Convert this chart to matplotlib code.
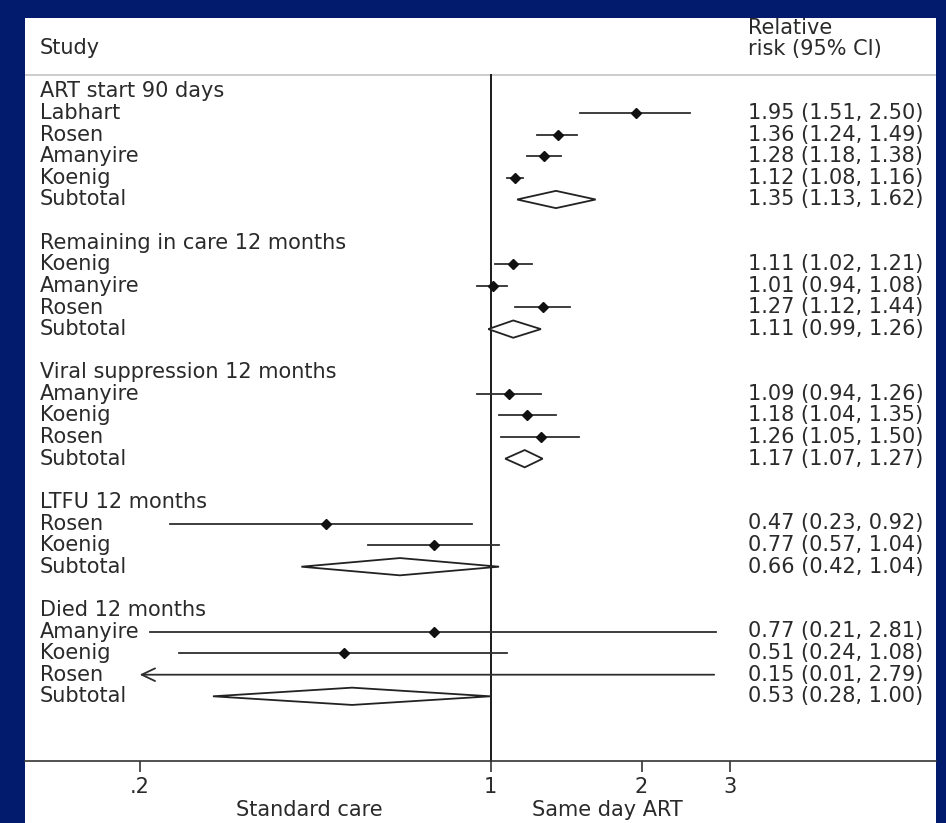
import matplotlib
matplotlib.use('Agg')
import matplotlib.pyplot as plt
from matplotlib import transforms
from matplotlib.patches import Polygon, Rectangle
from matplotlib.ticker import FixedLocator, NullLocator

# groups (outcomes) and studies
group_names = ['ART start 90 days', 'Remaining in care 12 months',
               'Viral suppression 12 months', 'LTFU 12 months', 'Died 12 months']

study_names = ['Labhart', 'Rosen', 'Amanyire', 'Koenig',
               'Koenig', 'Amanyire', 'Rosen',
               'Amanyire', 'Koenig', 'Rosen',
               'Rosen', 'Koenig',
               'Amanyire', 'Koenig', 'Rosen']
study_group = [0, 0, 0, 0, 1, 1, 1, 2, 2, 2, 3, 3, 4, 4, 4]
rr = [1.95, 1.36, 1.28, 1.12, 1.11, 1.01, 1.27, 1.09, 1.18, 1.26, 0.47, 0.77, 0.77, 0.51, 0.15]
lo = [1.51, 1.24, 1.18, 1.08, 1.02, 0.94, 1.12, 0.94, 1.04, 1.05, 0.23, 0.57, 0.21, 0.24, 0.01]
hi = [2.50, 1.49, 1.38, 1.16, 1.21, 1.08, 1.44, 1.26, 1.35, 1.50, 0.92, 1.04, 2.81, 1.08, 2.79]

# subtotal (pooled) per group
sub_rr = [1.35, 1.11, 1.17, 0.66, 0.53]
sub_lo = [1.13, 0.99, 1.07, 0.42, 0.28]
sub_hi = [1.62, 1.26, 1.27, 1.04, 1.00]

ticks = [0.2, 1, 2, 3]
tick_labels = ['.2', '1', '2', '3']
x_show_min = 0.2   # lower end of the plotted range, smaller CIs get an arrow

W, H = 946, 823
BG = '#021b6d'
INK = '#2a2a2a'
FS = 15
plt.rcParams['font.family'] = ['DejaVu Sans']

fig = plt.figure(figsize=(W / 100, H / 100), dpi=100, facecolor=BG)
fig.add_artist(Rectangle((25 / W, 0), (936 - 25) / W, 1 - 18 / H,
                         transform=fig.transFigure, facecolor='white',
                         edgecolor='none', zorder=-10))

# axes covers the white panel, bottom spine is the x axis
ax_bottom = 760.7
ax = fig.add_axes([25 / W, (H - ax_bottom) / H, (936 - 25) / W, (ax_bottom - 18) / H])
ax.set_facecolor('none')
ax.set_xscale('log')
x_one, decade = 490.5, 502.0
ax.set_xlim(10 ** ((25 - x_one) / decade), 10 ** ((936 - x_one) / decade))
row0, row_h = 91.5, 21.6
y_bot = (ax_bottom - row0) / row_h
ax.set_ylim(y_bot, (18 - row0) / row_h)

for s in ['top', 'left', 'right']:
    ax.spines[s].set_visible(False)
ax.spines['bottom'].set_color('#333333')
ax.spines['bottom'].set_linewidth(1.2)
ax.set_yticks([])
ax.xaxis.set_major_locator(FixedLocator(ticks))
ax.xaxis.set_minor_locator(NullLocator())
ax.set_xticklabels(tick_labels)
ax.tick_params(axis='x', direction='out', length=8, width=1.2, color='#333333',
               labelsize=FS, labelcolor=INK, pad=4)

# header
fig.text(40 / W, 1 - 48 / H, 'Study', fontsize=FS, color=INK, va='center')
fig.text(748 / W, 1 - 28 / H, 'Relative', fontsize=FS, color=INK, va='center')
fig.text(748 / W, 1 - 49 / H, 'risk (95% CI)', fontsize=FS, color=INK, va='center')
sep_row = (75 - row0) / row_h
ax.axhline(sep_row, color='#cccccc', lw=1.4)

# line of no effect
ax.plot([1, 1], [sep_row, y_bot], color='#1a1a1a', lw=1.4, clip_on=False)

tr = transforms.blended_transform_factory(fig.transFigure, ax.transData)
lc = '#2e2e2e'

row = 0
for g, gname in enumerate(group_names):
    ax.text(40 / W, row, gname, transform=tr, fontsize=FS, color=INK, va='center')
    row += 1
    for i in range(len(study_names)):
        if study_group[i] != g:
            continue
        ax.text(40 / W, row, study_names[i], transform=tr, fontsize=FS, color=INK, va='center')
        if lo[i] < x_show_min:
            ax.annotate('', xy=(x_show_min, row), xytext=(hi[i], row),
                        arrowprops=dict(arrowstyle='->,head_length=0.8,head_width=0.38',
                                        color=lc, lw=1.3, mutation_scale=12,
                                        shrinkA=0, shrinkB=0))
        else:
            ax.plot([lo[i], hi[i]], [row, row], color=lc, lw=1.3)
        if rr[i] >= x_show_min:
            ax.plot(rr[i], row, 'D', ms=5, color='#111111')
        ax.text(748 / W, row, '%.2f (%.2f, %.2f)' % (rr[i], lo[i], hi[i]),
                transform=tr, fontsize=FS, color=INK, va='center')
        row += 1
    # subtotal diamond
    ax.text(40 / W, row, 'Subtotal', transform=tr, fontsize=FS, color=INK, va='center')
    dh = 0.4
    ax.add_patch(Polygon([(sub_lo[g], row), (sub_rr[g], row - dh), (sub_hi[g], row),
                          (sub_rr[g], row + dh)], closed=True, facecolor='white',
                         edgecolor='#222222', lw=1.3, zorder=3))
    ax.text(748 / W, row, '%.2f (%.2f, %.2f)' % (sub_rr[g], sub_lo[g], sub_hi[g]),
            transform=tr, fontsize=FS, color=INK, va='center')
    row += 2

# axis captions
fig.text(309 / W, 1 - 810 / H, 'Standard care', fontsize=FS, color=INK, ha='center', va='center')
fig.text(607 / W, 1 - 810 / H, 'Same day ART', fontsize=FS, color=INK, ha='center', va='center')

fig.savefig('out.png', dpi=100, facecolor=BG)
